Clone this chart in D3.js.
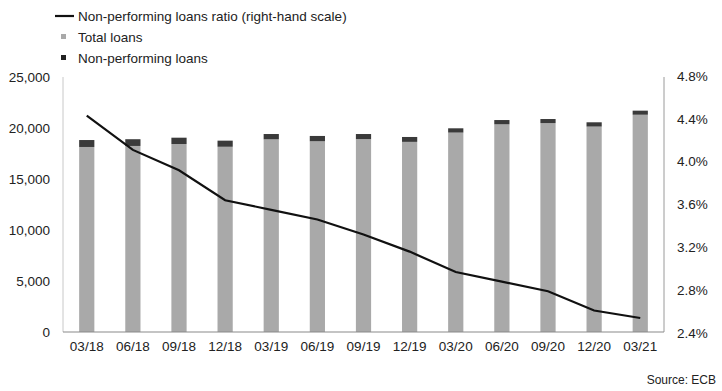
<!DOCTYPE html>
<html>
<head>
<meta charset="utf-8">
<script src="https://cdn.jsdelivr.net/npm/d3@7"></script>
<style>
  body { margin: 0; background: #fff; }
  text { font-family: "Liberation Sans", Arial, sans-serif; fill: #222; }
</style>
</head>
<body>
<svg id="chart" width="722" height="391"></svg>
<script>
// Quarter labels
const quarters = ["03/18", "06/18", "09/18", "12/18", "03/19", "06/19", "09/19",
                  "12/19", "03/20", "06/20", "09/20", "12/20", "03/21"];
// Total loans (EUR bn, bar top incl. NPL cap)
const totalLoans = [18820, 18900, 19050, 18760, 19410, 19220, 19410,
                    19120, 19970, 20780, 20880, 20560, 21700];
// Non-performing loans (EUR bn)
const nplLoans = [680, 660, 620, 600, 520, 520, 500, 480, 420, 420, 400, 420, 400];
// NPL ratio (%)
const nplRatio = [4.43, 4.11, 3.92, 3.64, 3.55, 3.46, 3.32, 3.16, 2.97, 2.88, 2.79, 2.61, 2.54];

const leftTicks = [0, 5000, 10000, 15000, 20000, 25000];
const rightTicks = [2.4, 2.8, 3.2, 3.6, 4.0, 4.4, 4.8];

const svg = d3.select("#chart");
const plot = { left: 63, right: 664, top: 77, bottom: 332 };

const x = d3.scaleBand()
    .domain(quarters)
    .range([plot.left, plot.right])
    .paddingInner(0.67)
    .paddingOuter(0.35);

const yL = d3.scaleLinear().domain([0, 25000]).range([plot.bottom, plot.top]);
const yR = d3.scaleLinear().domain([2.4, 4.8]).range([plot.bottom + 1, plot.top - 1]);

// Bars: total loans (gray) with NPL cap (dark)
svg.selectAll(".bar-total")
    .data(quarters)
    .join("rect")
    .attr("class", "bar-total")
    .attr("x", d => x(d))
    .attr("width", x.bandwidth())
    .attr("y", (d, i) => yL(totalLoans[i] - nplLoans[i]))
    .attr("height", (d, i) => yL(0) - yL(totalLoans[i] - nplLoans[i]))
    .attr("fill", "#a9a9a9");

svg.selectAll(".bar-npl")
    .data(quarters)
    .join("rect")
    .attr("class", "bar-npl")
    .attr("x", d => x(d))
    .attr("width", x.bandwidth())
    .attr("y", (d, i) => yL(totalLoans[i]))
    .attr("height", (d, i) => yL(totalLoans[i] - nplLoans[i]) - yL(totalLoans[i]))
    .attr("fill", "#3a3a3a");

// Frame lines
svg.append("line")
    .attr("x1", plot.left).attr("x2", plot.left)
    .attr("y1", plot.top).attr("y2", plot.bottom)
    .attr("stroke", "#c8c8c8").attr("stroke-width", 1);
svg.append("line")
    .attr("x1", plot.right).attr("x2", plot.right)
    .attr("y1", plot.top).attr("y2", plot.bottom)
    .attr("stroke", "#9a9a9a").attr("stroke-width", 1);
svg.append("line")
    .attr("x1", plot.left).attr("x2", plot.right)
    .attr("y1", plot.bottom).attr("y2", plot.bottom)
    .attr("stroke", "#8a8a8a").attr("stroke-width", 1.2);

// Ratio line
const line = d3.line()
    .x((d, i) => x(quarters[i]) + x.bandwidth() / 2)
    .y(d => yR(d));

svg.append("path")
    .datum(nplRatio)
    .attr("d", line)
    .attr("fill", "none")
    .attr("stroke", "#111")
    .attr("stroke-width", 2.2);

// Left axis labels
svg.append("g")
    .attr("transform", `translate(${plot.left - 10},0)`)
    .call(d3.axisLeft(yL).tickValues(leftTicks).tickSize(0).tickFormat(d3.format(",")))
    .call(g => g.select(".domain").remove())
    .selectAll("text")
    .attr("font-size", 13.5)
    .attr("fill", "#222");

// Right axis labels
svg.append("g")
    .attr("transform", `translate(${plot.right + 10},0)`)
    .call(d3.axisRight(yR).tickValues(rightTicks).tickSize(0).tickFormat(d => d.toFixed(1) + "%"))
    .call(g => g.select(".domain").remove())
    .selectAll("text")
    .attr("font-size", 13.5)
    .attr("fill", "#222");

// Bottom axis labels
svg.append("g")
    .attr("transform", `translate(0,${plot.bottom + 6})`)
    .call(d3.axisBottom(x).tickSize(0))
    .call(g => g.select(".domain").remove())
    .selectAll("text")
    .attr("font-size", 13.5)
    .attr("fill", "#222");

// Legend
const legend = svg.append("g");
legend.append("line")
    .attr("x1", 55).attr("x2", 74).attr("y1", 16).attr("y2", 16)
    .attr("stroke", "#111").attr("stroke-width", 2.2);
legend.append("text").attr("x", 78).attr("y", 20.5).attr("font-size", 13.5)
    .text("Non-performing loans ratio (right-hand scale)");
legend.append("rect").attr("x", 61).attr("y", 34).attr("width", 5).attr("height", 5)
    .attr("fill", "#a9a9a9");
legend.append("text").attr("x", 78).attr("y", 41.5).attr("font-size", 13.5)
    .text("Total loans");
legend.append("rect").attr("x", 61).attr("y", 55).attr("width", 5).attr("height", 5)
    .attr("fill", "#222");
legend.append("text").attr("x", 78).attr("y", 62.5).attr("font-size", 13.5)
    .text("Non-performing loans");

// Source
svg.append("text")
    .attr("x", 716).attr("y", 384)
    .attr("text-anchor", "end")
    .attr("font-size", 12)
    .text("Source: ECB");
</script>
</body>
</html>
